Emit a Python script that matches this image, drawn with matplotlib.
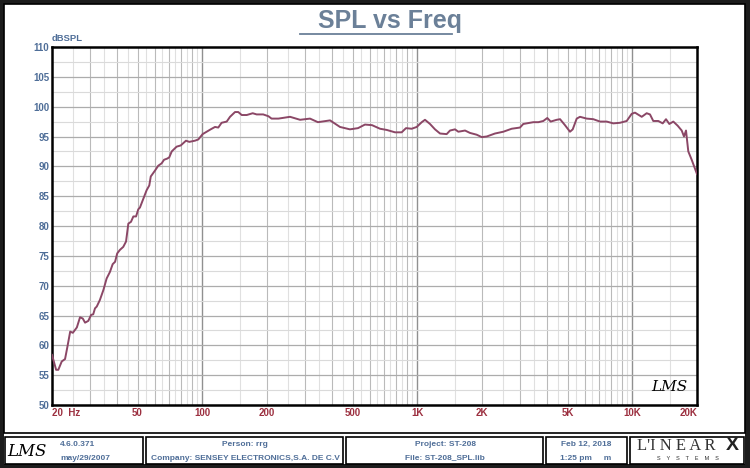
import matplotlib
matplotlib.use("Agg")
import matplotlib.pyplot as plt
import numpy as np
from matplotlib.patches import Rectangle
from matplotlib.lines import Line2D

# frequency response (Hz, dBSPL)
freq = [20, 20.9, 21.4, 22.2, 23.0, 23.6, 24.3, 25.0, 26.1, 27.0, 27.8, 28.5, 29.5,
        30.4, 31.1, 31.7, 32.3, 33.4, 34.7, 35.9, 37.2, 38.3, 39.3, 40.2, 41.4, 42.9,
        44.2, 45.3, 46.6, 47.8, 49.2, 50.4, 51.3, 53.2, 55.1, 56.7, 57.6, 60.3, 62.4,
        64.7, 66.4, 68.7, 70.2, 72.1, 76.0, 79.4, 84.0, 87.0, 92.5, 95.8, 100.4, 104.8,
        109.4, 114.6, 118.7, 123, 129.9, 134.6, 142, 147, 152.6, 161, 171.6, 179, 192,
        203, 210, 226, 256, 285, 317, 345, 393, 437, 486, 530, 571, 616, 671, 721, 788,
        846, 886, 942, 994, 1049, 1086, 1146, 1209, 1276, 1370, 1420, 1498, 1552, 1668,
        1758, 1889, 1994, 2104, 2298, 2513, 2748, 3004, 3112, 3466, 3657, 3856, 4025,
        4174, 4453, 4614, 4864, 5132, 5284, 5515, 5713, 6138, 6588, 7078, 7604, 8160,
        8769, 9420, 9938, 10294, 11064, 11668, 12088, 12522, 13214, 13854, 14350, 14868,
        15520, 16268, 16978, 17402, 17778, 18220, 18894, 20000]
spl = [58.4, 55.9, 55.9, 57.3, 57.7, 59.8, 62.3, 62.1, 63.0, 64.7, 64.5, 63.8, 64.1,
       65.1, 65.2, 66.2, 66.5, 67.6, 69.3, 71.2, 72.3, 73.6, 74.0, 75.4, 76.0, 76.5,
       77.4, 80.4, 80.7, 81.6, 81.6, 82.8, 83.1, 84.6, 86.0, 86.8, 88.3, 89.3, 90.1,
       90.5, 91.1, 91.3, 91.5, 92.5, 93.3, 93.5, 94.3, 94.1, 94.3, 94.5, 95.4, 95.8,
       96.2, 96.6, 96.5, 97.3, 97.5, 98.3, 99.1, 99.1, 98.6, 98.6, 98.9, 98.7, 98.7,
       98.4, 98.0, 98.0, 98.3, 97.8, 98.0, 97.4, 97.7, 96.6, 96.2, 96.4, 97.0, 96.9,
       96.3, 96.1, 95.7, 95.7, 96.4, 96.3, 96.6, 97.4, 97.8, 97.1, 96.2, 95.5, 95.4,
       96.0, 96.2, 95.8, 96.0, 95.6, 95.3, 94.9, 95.0, 95.5, 95.8, 96.3, 96.5, 97.1,
       97.4, 97.4, 97.6, 98.1, 97.5, 97.8, 97.9, 96.9, 95.8, 96.2, 98.0, 98.3, 98.0,
       97.9, 97.5, 97.5, 97.2, 97.3, 97.6, 98.8, 99.0, 98.3, 98.9, 98.7, 97.6, 97.6,
       97.2, 97.9, 97.1, 97.5, 96.8, 96.0, 95.0, 96.0, 92.5, 91.1, 88.7]

xtick_vals = [20, 50, 100, 200, 500, 1000, 2000, 5000, 10000, 20000]
xtick_labels = ["20  Hz", "50", "100", "200", "500", "1K", "2K", "5K", "10K", "20K"]
ytick_vals = list(range(50, 111, 5))

W, H = 750, 468


def px(x, y):
    # pixel position (from top left) -> figure fraction
    return x / W, 1 - y / H


blue = "#4f6e98"
red = "#9c3040"
sans = ["Liberation Sans", "DejaVu Sans"]

fig = plt.figure(figsize=(7.5, 4.68), dpi=100, facecolor="#1c1c1c")

# white panels: main area and footer
fig.patches.append(Rectangle(px(4, 464), 741 / W, 460 / H, transform=fig.transFigure,
                             facecolor="white", edgecolor="none", zorder=-2))
fig.patches.append(Rectangle(px(4, 433), 741 / W, 429 / H, transform=fig.transFigure,
                             facecolor="none", edgecolor="black", lw=1.2, zorder=-1))
boxes = [(5, 143), (146, 343), (346, 543), (546, 627), (630, 744)]
for x0, x1 in boxes:
    fig.patches.append(Rectangle(px(x0, 464), (x1 - x0) / W, 27 / H,
                                 transform=fig.transFigure, facecolor="white",
                                 edgecolor="black", lw=1.2, zorder=-1))

# title, underlined
fig.text(*px(390, 21), "SPL vs Freq", ha="center", va="center", fontsize=18,
         fontweight="bold", color="#6b8098", family=sans)
fig.add_artist(Line2D([300 / W, 452 / W], [1 - 34 / H, 1 - 34 / H],
                      transform=fig.transFigure, color="#6b8098", lw=1.3))

ax = fig.add_axes([52 / W, 1 - 405 / H, 645 / W, 358 / H], zorder=2)
ax.set_facecolor("white")
ax.set_xscale("log")
ax.set_xlim(20, 20000)
ax.set_ylim(50, 110)

# grid: decade, integer and half steps
half_lines, int_lines, dec_lines = [], [], []
for d in [10, 100, 1000, 10000]:
    for k in range(1, 10):
        f_int = k * d
        f_half = (k + 0.5) * d
        if 20 < f_int < 20000:
            (dec_lines if k == 1 else int_lines).append(f_int)
        if 20 < f_half < 20000:
            half_lines.append(f_half)
ax.vlines(half_lines, 50, 110, color="#e0e0e0", lw=0.8, zorder=1)
ax.vlines(int_lines, 50, 110, color="#bababa", lw=0.8, zorder=1)
ax.vlines(dec_lines, 50, 110, color="#909090", lw=1.0, zorder=1)
ax.hlines(np.arange(52.5, 110, 5), 20, 20000, color="#dadada", lw=0.8, zorder=1)
ax.hlines(ytick_vals[1:-1], 20, 20000, color="#acacac", lw=0.9, zorder=1)

ax.plot(freq, spl, color="#8b4766", lw=1.4, zorder=3)

for s in ax.spines.values():
    s.set_linewidth(1.8)
    s.set_color("black")

ax.set_xticks(xtick_vals)
ax.set_xticklabels(xtick_labels)
ax.xaxis.set_minor_locator(matplotlib.ticker.NullLocator())
ax.set_yticks(ytick_vals)
ax.tick_params(length=0, labelsize=7, pad=2)
for t in ax.get_xticklabels():
    t.set_color(red)
    t.set_fontweight("bold")
    t.set_family(sans)
ax.get_xticklabels()[0].set_ha("left")
ax.get_xticklabels()[-1].set_ha("right")
for t in ax.get_yticklabels():
    t.set_color(blue)
    t.set_fontweight("bold")
    t.set_family(sans)

ax.text(0.0, 1.012, "dBSPL", transform=ax.transAxes, fontsize=6.8,
        fontweight="bold", color=blue, family=sans, va="bottom")
ax.text(0.985, 0.03, "LMS", transform=ax.transAxes, ha="right", va="bottom",
        fontsize=11, style="italic", family="DejaVu Serif", color="black")

# footer
fig.text(*px(27, 451), "LMS", ha="center", va="center", fontsize=12,
         style="italic", family="DejaVu Serif", color="black")
foot = dict(fontsize=6.0, fontweight="bold", color=blue, family=sans, va="center")
fig.text(*px(60, 444), "4.6.0.371", ha="left", **foot)
fig.text(*px(60, 458), "may/29/2007", ha="left", **foot)
fig.text(*px(245, 444), "Person: rrg", ha="center", **foot)
fig.text(*px(245, 458), "Company: SENSEY ELECTRONICS,S.A. DE C.V", ha="center", **foot)
fig.text(*px(445, 444), "Project: ST-208", ha="center", **foot)
fig.text(*px(445, 458), "File: ST-208_SPL.lib", ha="center", **foot)
fig.text(*px(586, 444), "Feb 12, 2018", ha="center", **foot)
fig.text(*px(586, 458), "1:25 pm     m", ha="center", **foot)
fig.text(*px(676, 446), "L'I N E A R", ha="center", va="center", fontsize=12,
         family="Liberation Serif", color="#333333")
fig.text(*px(732, 446), "X", ha="center", va="center", fontsize=14,
         fontweight="bold", family="Liberation Sans", color="#222222")
fig.text(*px(688, 459), "S    Y    S    T    E    M    S", ha="center", va="center",
         fontsize=4, family="Liberation Sans", color="#333333")

fig.savefig("out.png", dpi=100, facecolor=fig.get_facecolor())
